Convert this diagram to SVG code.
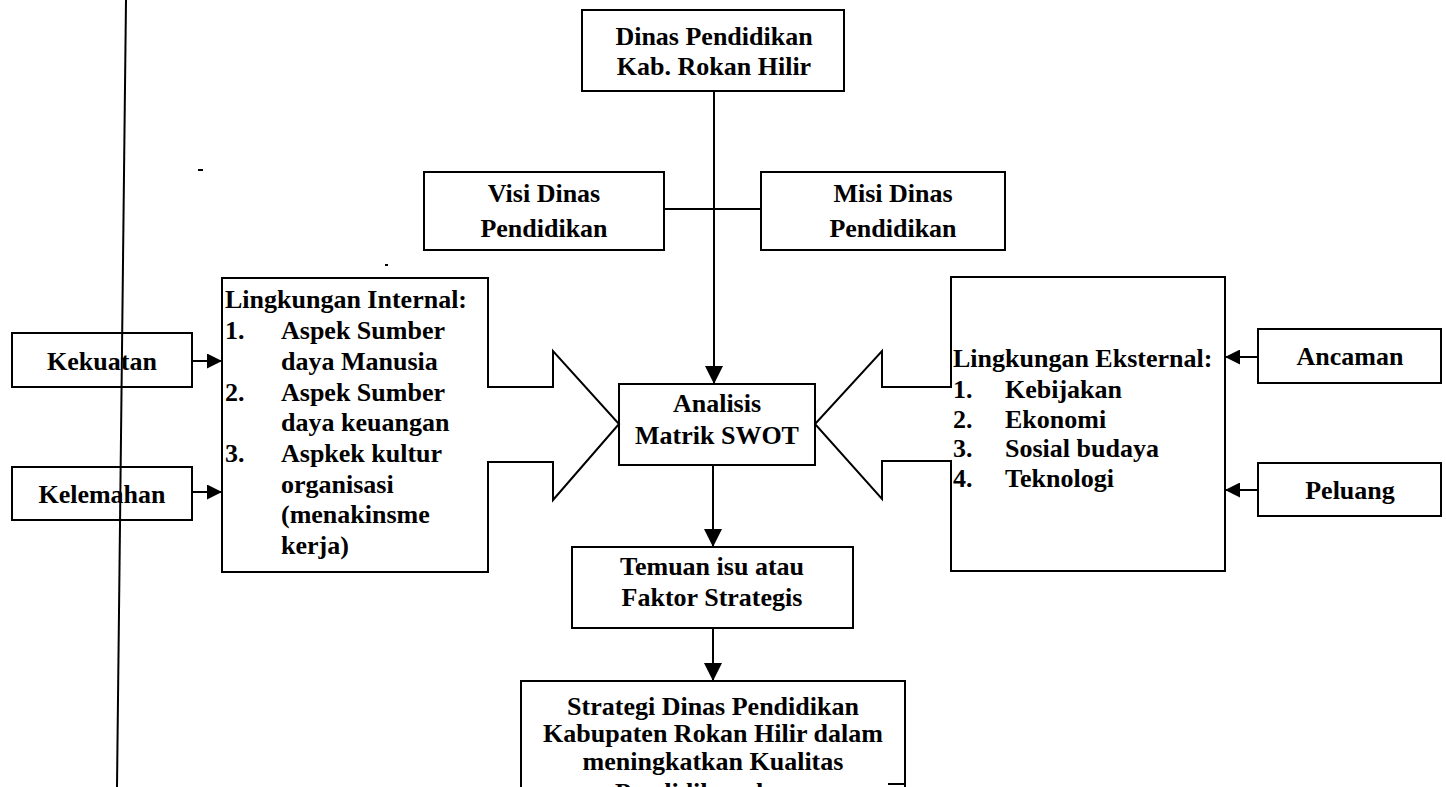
<svg xmlns="http://www.w3.org/2000/svg" width="1446" height="787" viewBox="0 0 1446 787">
<style>
.box{fill:#fff;stroke:#000;stroke-width:2}
.ln{fill:none;stroke:#000;stroke-width:2}
.blk{fill:#fff;stroke:#000;stroke-width:2;stroke-linejoin:miter}
text{font-family:"Liberation Serif","Times New Roman",serif;font-weight:bold;font-size:26px;fill:#000}
.c{text-anchor:middle}
</style>
<defs>
<marker id="ahs" viewBox="0 0 10 10" refX="10" refY="5" markerWidth="15" markerHeight="15" markerUnits="userSpaceOnUse" orient="auto">
<path d="M0,0 L10,5 L0,10 Z" fill="#000"/>
</marker>
<marker id="ahd" viewBox="0 0 10 10" refX="10" refY="5" markerWidth="18" markerHeight="18" markerUnits="userSpaceOnUse" orient="auto">
<path d="M0,0 L10,5 L0,10 Z" fill="#000"/>
</marker>
</defs>
<rect width="1446" height="787" fill="#fff"/>

<g id="dinas">
<rect class="box" x="582" y="10" width="262" height="81"/>
<text class="c" x="714" y="45">Dinas Pendidikan</text>
<text class="c" x="714" y="75">Kab. Rokan Hilir</text>
</g>
<g id="visi">
<rect class="box" x="424" y="172" width="240" height="78"/>
<text class="c" x="544" y="202">Visi Dinas</text>
<text class="c" x="544" y="237">Pendidikan</text>
</g>
<g id="misi">
<rect class="box" x="761" y="172" width="244" height="78"/>
<text class="c" x="893" y="202">Misi Dinas</text>
<text class="c" x="893" y="237">Pendidikan</text>
</g>
<g id="kekuatan">
<rect class="box" x="12" y="333" width="180" height="54"/>
<text class="c" x="102" y="370">Kekuatan</text>
</g>
<g id="kelemahan">
<rect class="box" x="12" y="467" width="180" height="53"/>
<text class="c" x="102" y="503">Kelemahan</text>
</g>
<g id="internal">
<rect class="box" x="222" y="278" width="266" height="294"/>
<text x="225" y="308">Lingkungan Internal:</text>
<text x="225" y="339">1.</text><text x="281" y="339">Aspek Sumber</text>
<text x="281" y="370">daya Manusia</text>
<text x="225" y="401">2.</text><text x="281" y="401">Aspek Sumber</text>
<text x="281" y="431">daya keuangan</text>
<text x="225" y="462">3.</text><text x="281" y="462">Aspkek kultur</text>
<text x="281" y="493">organisasi</text>
<text x="281" y="523">(menakinsme</text>
<text x="281" y="554">kerja)</text>
</g>
<g id="analisis">
<rect class="box" x="619" y="384" width="196" height="81"/>
<text class="c" x="717" y="412">Analisis</text>
<text class="c" x="717" y="444">Matrik SWOT</text>
</g>
<g id="eksternal">
<rect class="box" x="951" y="277" width="274" height="294"/>
<text x="953" y="367">Lingkungan Eksternal:</text>
<text x="953" y="398">1.</text><text x="1005" y="398">Kebijakan</text>
<text x="953" y="428">2.</text><text x="1005" y="428">Ekonomi</text>
<text x="953" y="457">3.</text><text x="1005" y="457">Sosial budaya</text>
<text x="953" y="487">4.</text><text x="1005" y="487">Teknologi</text>
</g>
<g id="ancaman">
<rect class="box" x="1258" y="329" width="183" height="54"/>
<text class="c" x="1350" y="365">Ancaman</text>
</g>
<g id="peluang">
<rect class="box" x="1258" y="463" width="183" height="53"/>
<text class="c" x="1350" y="499">Peluang</text>
</g>
<g id="temuan">
<rect class="box" x="572" y="547" width="281" height="81"/>
<text class="c" x="712" y="575">Temuan isu atau</text>
<text class="c" x="712" y="606">Faktor Strategis</text>
</g>
<g id="strategi">
<path class="ln" d="M521,800 V681 H905 V800"/>
<text class="c" x="713" y="715">Strategi Dinas Pendidikan</text>
<text class="c" x="713" y="742">Kabupaten Rokan Hilir dalam</text>
<text class="c" x="713" y="770">meningkatkan Kualitas</text>
<text class="c" x="713" y="801">Pendidikan dasar</text>
<line x1="888" y1="784" x2="905" y2="784" stroke="#000" stroke-width="2"/>
</g>

<g id="connectors">
<line class="ln" x1="714" y1="91" x2="714" y2="384" marker-end="url(#ahd)"/>
<line class="ln" x1="664" y1="209" x2="761" y2="209"/>
<path class="blk" d="M487,387 H553 V351 L619,424 L553,500 V462 H487"/>
<path class="blk" d="M952,387 H882 V351 L815,424 L882,499 V461 H952"/>
<line class="ln" x1="192" y1="361" x2="222" y2="361" marker-end="url(#ahs)"/>
<line class="ln" x1="192" y1="492" x2="222" y2="492" marker-end="url(#ahs)"/>
<line class="ln" x1="1258" y1="357" x2="1225" y2="357" marker-end="url(#ahs)"/>
<line class="ln" x1="1258" y1="490" x2="1225" y2="490" marker-end="url(#ahs)"/>
<line class="ln" x1="713" y1="465" x2="713" y2="547" marker-end="url(#ahd)"/>
<line class="ln" x1="713" y1="628" x2="713" y2="681" marker-end="url(#ahd)"/>
</g>

<line x1="126" y1="0" x2="117" y2="787" stroke="#000" stroke-width="2"/>
<rect x="198" y="169" width="5" height="2" fill="#000"/>
<rect x="385" y="264" width="3" height="2" fill="#000"/>
</svg>
